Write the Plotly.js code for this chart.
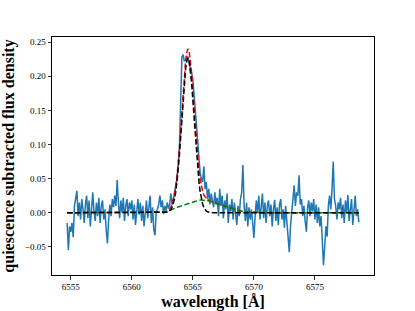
<!DOCTYPE html>
<html>
<head>
<meta charset="utf-8">
<script src="https://cdn.plot.ly/plotly-3.0.1.min.js"></script>
<style>html,body{margin:0;padding:0;background:#fff;}#chart{width:415px;height:311px;}</style>
</head>
<body>
<div id="chart"></div>
<script>
// Observed quiescence-subtracted flux on a uniform 0.1 Å grid starting at 6554.7 Å
const gridStart = 6554.7;
const gridStep = 0.1;
const flux = [
  -0.015, -0.055, -0.020, -0.028, -0.015, -0.036, 0.010, 0.022, 0.032, -0.005,
  0.015, -0.010, 0.020, 0.005, -0.015, 0.012, 0.025, -0.008, 0.018, -0.020,
  0.008, 0.030, 0.002, -0.012, 0.015, -0.005, 0.022, -0.015, 0.010, 0.018,
  -0.010, 0.005, -0.025, -0.045, -0.010, 0.012, -0.005, 0.020, 0.008, 0.025,
  0.010, 0.048, 0.015, -0.008, 0.018, 0.000, 0.022, -0.012, 0.010, 0.020,
  -0.005, 0.015, 0.005, 0.018, -0.010, 0.012, -0.018, 0.008, 0.020, -0.003,
  0.015, -0.012, 0.010, -0.020, 0.005, 0.018, -0.008, 0.012, 0.025, -0.015,
  0.008, -0.025, -0.033, 0.002, 0.005, 0.012, 0.025, 0.008, 0.018, -0.002,
  0.010, 0.003, 0.015, 0.006, 0.012, 0.028, 0.012, 0.020, 0.030, 0.036,
  0.050, 0.072, 0.095, 0.160, 0.228, 0.232, 0.222, 0.224, 0.229, 0.228,
  0.215, 0.210, 0.205, 0.195, 0.172, 0.150, 0.138, 0.105, 0.080, 0.058,
  0.050, 0.045, 0.068, 0.035, 0.045, 0.020, 0.035, 0.012, 0.028, 0.018,
  0.008, 0.030, 0.012, 0.022, -0.005, 0.035, 0.010, 0.025, -0.008, 0.018,
  0.005, 0.028, -0.015, 0.012, 0.002, 0.020, -0.010, 0.015, 0.000, -0.018,
  0.010, -0.005, 0.020, 0.030, 0.070, 0.010, -0.012, 0.015, -0.020, 0.008,
  -0.010, 0.005, -0.015, -0.037, -0.005, 0.018, 0.000, 0.025, -0.010, 0.012,
  0.028, -0.008, 0.015, -0.015, 0.010, 0.018, -0.005, 0.012, -0.020, 0.005,
  0.019, -0.012, 0.008, -0.018, 0.012, 0.020, -0.010, 0.005, -0.022, 0.010,
  -0.015, -0.030, -0.058, -0.020, 0.005, 0.015, 0.040, 0.010, 0.030, 0.025,
  0.055, 0.012, 0.020, -0.005, 0.010, -0.012, -0.028, 0.008, 0.018, -0.005,
  0.015, 0.002, 0.020, -0.010, 0.012, -0.015, 0.008, -0.020, -0.005, -0.040,
  -0.077, -0.050, -0.020, -0.035, 0.010, 0.025, 0.005, 0.035, 0.075, 0.020,
  0.010, -0.010, 0.015, 0.005, 0.022, -0.008, 0.012, -0.015, 0.018, 0.000,
  0.026, -0.012, 0.008, 0.020, -0.018, 0.010, 0.025, -0.005, 0.005, -0.014
];

// Fit curves, sampled at these wavelengths
const fitWavelength = [
  6554.7, 6556.0, 6558.0, 6560.0, 6561.0, 6562.0, 6562.3,
  6562.6, 6562.7, 6562.8, 6562.9, 6563.0, 6563.1, 6563.2, 6563.3, 6563.4, 6563.5, 6563.6,
  6563.7, 6563.8, 6563.9, 6564.0, 6564.1, 6564.2, 6564.3, 6564.4, 6564.5, 6564.6,
  6564.7, 6564.8, 6564.9, 6565.0, 6565.1, 6565.2, 6565.3, 6565.4, 6565.5, 6565.6,
  6565.7, 6565.8, 6565.9, 6566.0, 6566.1, 6566.2, 6566.3, 6566.4, 6566.5, 6566.6,
  6566.8, 6567.0, 6567.5, 6568.0, 6568.5, 6569.0, 6569.5, 6570.0, 6571.0, 6573.0, 6576.0, 6578.6
];
const narrowComponent = [
  0, 0, 0, 0, 0, 0, 0,
  0.0001, 0.0002, 0.0003, 0.0007, 0.0014, 0.0025, 0.0045, 0.0077, 0.0127, 0.0202, 0.0307,
  0.0449, 0.0631, 0.0852, 0.1105, 0.1377, 0.1648, 0.1896, 0.2096, 0.2225, 0.2270,
  0.2225, 0.2096, 0.1896, 0.1648, 0.1377, 0.1105, 0.0852, 0.0631, 0.0449, 0.0307,
  0.0202, 0.0127, 0.0077, 0.0045, 0.0025, 0.0014, 0.0007, 0.0003, 0.0002, 0.0001,
  0, 0, 0, 0, 0, 0, 0, 0, 0, 0, 0, 0
];
const broadComponent = [
  0, 0, 0, 0, 0, 0, 0.0002,
  0.0007, 0.0010, 0.0013, 0.0017, 0.0024, 0.0032, 0.0041, 0.0051, 0.0060, 0.0067, 0.0073,
  0.0079, 0.0085, 0.0090, 0.0096, 0.0102, 0.0108, 0.0114, 0.0120, 0.0126, 0.0132,
  0.0138, 0.0144, 0.0150, 0.0156, 0.0162, 0.0168, 0.0174, 0.0179, 0.0183, 0.0185,
  0.0186, 0.0185, 0.0184, 0.0182, 0.0180, 0.0177, 0.0173, 0.0168, 0.0163, 0.0158,
  0.0145, 0.0133, 0.0105, 0.0075, 0.0045, 0.0022, 0.0008, 0.0002, 0, 0, 0, 0
];
const totalFit = [
  0, 0, 0, 0, 0, 0, 0.0002,
  0.0008, 0.0012, 0.0016, 0.0024, 0.0038, 0.0057, 0.0086, 0.0128, 0.0187, 0.0269, 0.0380,
  0.0528, 0.0716, 0.0942, 0.1201, 0.1479, 0.1756, 0.2010, 0.2216, 0.2351, 0.2402,
  0.2363, 0.2240, 0.2046, 0.1804, 0.1539, 0.1273, 0.1026, 0.0810, 0.0632, 0.0492,
  0.0388, 0.0312, 0.0261, 0.0227, 0.0205, 0.0191, 0.0180, 0.0171, 0.0165, 0.0159,
  0.0145, 0.0133, 0.0105, 0.0075, 0.0045, 0.0022, 0.0008, 0.0002, 0, 0, 0, 0
];

const xTicks = [6555, 6560, 6565, 6570, 6575];
const yTicks = [-0.05, 0.00, 0.05, 0.10, 0.15, 0.20, 0.25];

const wavelength = flux.map((_, i) => +(gridStart + gridStep * i).toFixed(1));

const dash = '5.5px,2.4px';
const traces = [
  {x: wavelength, y: flux, type: 'scatter', mode: 'lines',
   line: {color: '#1f77b4', width: 1.5}, name: 'data'},
  {x: fitWavelength, y: totalFit, type: 'scatter', mode: 'lines',
   line: {color: '#ff0000', width: 1.5, dash: dash}, name: 'total'},
  {x: fitWavelength, y: broadComponent, type: 'scatter', mode: 'lines',
   line: {color: '#008000', width: 1.5, dash: dash}, name: 'broad'},
  {x: fitWavelength, y: narrowComponent, type: 'scatter', mode: 'lines',
   line: {color: '#000000', width: 1.5, dash: dash}, name: 'narrow'}
];

const serif = 'Liberation Serif, Times New Roman, serif';
const layout = {
  width: 415, height: 311,
  margin: {l: 52, r: 41, t: 37, b: 36},
  paper_bgcolor: '#fff', plot_bgcolor: '#fff',
  showlegend: false,
  font: {family: serif, color: '#000', size: 9},
  xaxis: {
    range: [6553.46, 6579.84], tickvals: xTicks, ticktext: xTicks.map(String),
    showgrid: false, zeroline: false, showline: true, mirror: true,
    linecolor: '#000', linewidth: 1, ticks: 'outside', ticklen: 3.5, tickwidth: 0.8,
    tickcolor: '#000', tickfont: {family: serif, size: 9},
    title: {text: '<b>wavelength [Å]</b>', font: {family: serif, size: 16}, standoff: 5}
  },
  yaxis: {
    range: [-0.0913, 0.2576], tickvals: yTicks, tickformat: '.2f',
    showgrid: false, zeroline: false, showline: true, mirror: true,
    linecolor: '#000', linewidth: 1, ticks: 'outside', ticklen: 3.5, tickwidth: 0.8,
    tickcolor: '#000', tickfont: {family: serif, size: 9},
    title: {text: '<b>quiescence subtracted flux density</b>', font: {family: serif, size: 16}, standoff: 6}
  }
};

Plotly.newPlot('chart', traces, layout, {displayModeBar: false, staticPlot: true});
</script>
</body>
</html>
